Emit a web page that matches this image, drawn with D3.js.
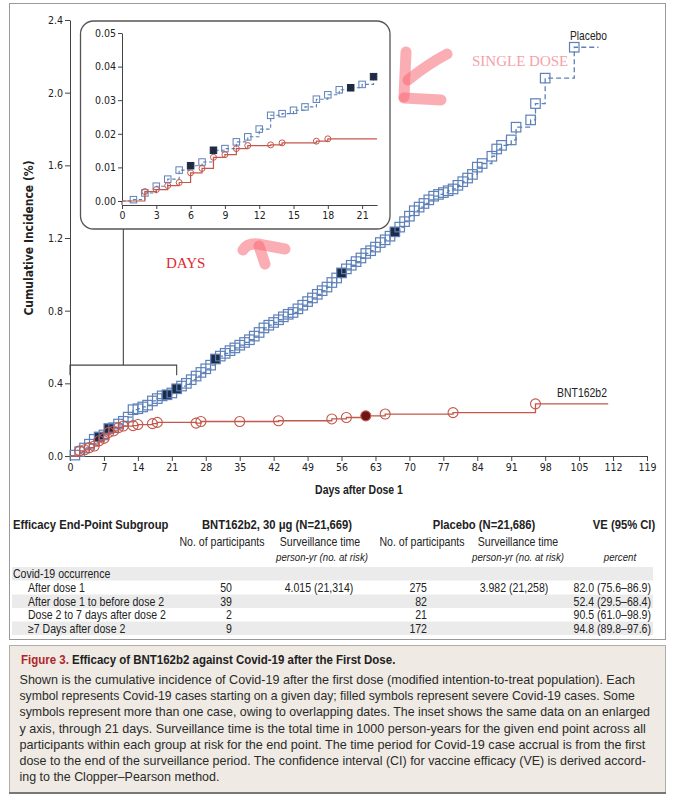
<!DOCTYPE html>
<html>
<head>
<meta charset="utf-8">
<script src="https://cdn.jsdelivr.net/npm/d3@7/dist/d3.min.js"></script>
<style>
  body { margin: 0; background: #fff; }
  svg text { font-family: "DejaVu Sans Condensed", "Liberation Sans", sans-serif; fill: #222; }
  .sans { font-family: "Liberation Sans", Arial, sans-serif !important; }
  .serif { font-family: "Liberation Serif", "DejaVu Serif", serif !important; }
</style>
</head>
<body>
<svg id="chart" width="673" height="800"></svg>
<script>
// ---- data ----
const placeboDays = [1,2,3,4,5,6,7,8,9,10,11,12,13,14,15,16,17,18,19,20,21,22,
  23,24,25,26,27,28,29,30,31,32,33,34,35,36,37,38,39,40,41,42,43,44,45,46,47,48,
  49,50,51,52,53,54,55,56,57,58,59,60,61,62,63,64,65,66,67,68,69,70,71,72,73,
  74,75,76,77,78,79,80,81,82,83,84,85,87,88,89,91,92,95,96,98,104];
const placeboVals = [0.005,0.024,0.044,0.065,0.092,0.105,0.116,0.151,0.156,0.176,0.191,0.214,0.255,0.26,0.27,0.28,0.303,0.316,0.331,0.337,0.347,0.37,
  0.385,0.40,0.42,0.44,0.46,0.48,0.50,0.534,0.55,0.565,0.58,0.595,0.61,0.625,0.64,0.66,0.68,0.705,0.72,0.735,0.75,0.766,0.78,0.79,0.81,0.83,
  0.85,0.87,0.89,0.91,0.93,0.955,0.98,1.008,1.03,1.05,1.07,1.09,1.115,1.13,1.15,1.175,1.19,1.21,1.234,1.26,1.29,1.32,1.35,1.37,1.39,
  1.41,1.43,1.44,1.45,1.46,1.47,1.49,1.51,1.53,1.55,1.59,1.61,1.65,1.69,1.71,1.74,1.81,1.85,1.94,2.08,2.25];
const placeboSevere = [6, 8, 20, 22, 30, 56, 67];
const placeboLastDay = 109;

const bntDays = [2,3,4,5,6,7,8,9,10,11,13,14,17,18,26,27,35,43,54,57,61,65,79,96];
const bntVals = [0.028,0.034,0.046,0.055,0.084,0.097,0.13,0.138,0.156,0.165,0.167,0.173,0.178,0.185,0.181,0.19,0.19,0.194,0.204,0.212,0.221,0.231,0.239,0.287];
const bntSevere = [61];
const bntLastDay = 111;

const insetPlaceboDays = [1,2,3,4,5,6,7,8,9,10,11,12,13,14,15,16,17,18,19,20,21,22];
const insetPlaceboVals = [0.0004,0.0024,0.0044,0.0065,0.0092,0.0105,0.0116,0.0151,0.0156,0.0176,0.0191,0.0214,0.0255,0.026,0.027,0.028,0.0303,0.0316,0.0331,0.0337,0.0347,0.037];
const insetPlaceboSevere = [6, 8, 20, 22];
const insetBntDays = [2,3,4,5,6,7,8,9,10,11,13,14,17,18];
const insetBntVals = [0.0028,0.0034,0.0046,0.0055,0.0084,0.0097,0.013,0.0138,0.0156,0.0165,0.0167,0.0173,0.0178,0.0185];
const insetLastDay = 22.3;

const mainXTicks = [0,7,14,21,28,35,42,49,56,63,70,77,84,91,98,105,112,119];
const mainYTicks = [0.0,0.4,0.8,1.2,1.6,2.0,2.4];
const insetXTicks = [0,3,6,9,12,15,18,21];
const insetYTicks = [0.00,0.01,0.02,0.03,0.04,0.05];

const subgroups = ["After dose 1", "After dose 1 to before dose 2", "Dose 2 to 7 days after dose 2", "\u22657 Days after dose 2"];
const bntCases = [50, 39, 2, 9];
const bntSurv = ["4.015 (21,314)", "", "", ""];
const placeboCases = [275, 82, 21, 172];
const placeboSurv = ["3.982 (21,258)", "", "", ""];
const veText = ["82.0 (75.6\u201386.9)", "52.4 (29.5\u201368.4)", "90.5 (61.0\u201398.9)", "94.8 (89.8\u201397.6)"];

const captionTitleRed = "Figure 3.";
const captionTitle = "Efficacy of BNT162b2 against Covid-19 after the First Dose.";
const captionLines = [
  "Shown is the cumulative incidence of Covid-19 after the first dose (modified intention-to-treat population). Each",
  "symbol represents Covid-19 cases starting on a given day; filled symbols represent severe Covid-19 cases. Some",
  "symbols represent more than one case, owing to overlapping dates. The inset shows the same data on an enlarged",
  "y axis, through 21 days. Surveillance time is the total time in 1000 person-years for the given end point across all",
  "participants within each group at risk for the end point. The time period for Covid-19 case accrual is from the first",
  "dose to the end of the surveillance period. The confidence interval (CI) for vaccine efficacy (VE) is derived accord-",
  "ing to the Clopper\u2013Pearson method."
];
const captionWidths = [616, 616, 631, 627, 627, 627, 200];

// ---- colours ----
const blue = "#5d80b8", navy = "#1d2b45", red = "#c4574b", darkRed = "#6e1414";

const svg = d3.select("#chart");

// text squeezed horizontally, like the narrow face of the original
function ntext(g, xp, yp, str, o) {
  o = o || {};
  const el = g.append("text").attr("class", "sans")
    .attr("text-anchor", o.anchor || "start")
    .style("font-size", (o.size || 12) + "px").text(str);
  if (o.bold) el.style("font-weight", "bold");
  if (o.italic) el.style("font-style", "italic");
  if (o.fill) el.style("fill", o.fill);
  let sx = o.sx || 0.88;
  if (o.width) sx = o.width / el.node().getComputedTextLength();
  el.attr("transform", `translate(${xp},${yp}) scale(${sx},1)`);
  return el;
}

// frames
svg.append("rect").attr("x", 9.5).attr("y", 3.5).attr("width", 656).attr("height", 636)
  .attr("fill", "#fff").attr("stroke", "#9a9a9a");
svg.append("rect").attr("x", 9.5).attr("y", 645.5).attr("width", 656).attr("height", 147)
  .attr("fill", "#efeae3").attr("stroke", "#b0aca6");
svg.append("line").attr("x1", 9).attr("x2", 666).attr("y1", 793).attr("y2", 793)
  .attr("stroke", "#777").attr("stroke-width", 2);

// ---- main chart ----
const x = d3.scaleLinear().domain([0, 119]).range([70, 647]);
const y = d3.scaleLinear().domain([0, 2.4]).range([456, 20]);

function styleAxis(g, fs) {
  g.selectAll("path.domain").attr("stroke", "#444");
  g.selectAll(".tick line").attr("stroke", "#444");
  g.selectAll(".tick text").attr("fill", "#333").style("font-size", fs + "px")
    .style("font-family", '"DejaVu Sans Condensed", sans-serif');
}

const gx = svg.append("g").attr("transform", `translate(0,${y(0)})`)
  .call(d3.axisBottom(x).tickValues(mainXTicks).tickSize(5).tickSizeOuter(0).tickPadding(3));
styleAxis(gx, 10.5);
const gy = svg.append("g").attr("transform", `translate(${x(0)},0)`)
  .call(d3.axisLeft(y).tickValues(mainYTicks).tickFormat(d3.format(".1f")).tickSize(5).tickSizeOuter(0).tickPadding(2));
styleAxis(gy, 10.5);

svg.append("text").attr("transform", `translate(33,${(y(0) + y(2.4)) / 2}) rotate(-90)`)
  .attr("text-anchor", "middle").style("font-size", "12px").style("font-weight", "bold")
  .text("Cumulative Incidence (%)");
ntext(svg, 359, 494, "Days after Dose 1", { anchor: "middle", bold: true, size: 12.5, width: 88 });

function stepSeries(days, vals, lastDay) {
  const pts = [{ day: 0, v: 0 }].concat(days.map((d, i) => ({ day: d, v: vals[i] })));
  pts.push({ day: lastDay, v: vals[vals.length - 1] });
  return pts;
}

const line = d3.line().x(d => x(d.day)).y(d => y(d.v)).curve(d3.curveStepAfter);

const placeboPts = placeboDays.map((d, i) => ({ day: d, v: placeboVals[i], severe: placeboSevere.includes(d) }));
const bntPts = bntDays.map((d, i) => ({ day: d, v: bntVals[i], severe: bntSevere.includes(d) }));

svg.append("path").datum(stepSeries(placeboDays, placeboVals, placeboLastDay))
  .attr("d", line).attr("fill", "none").attr("stroke", blue).attr("stroke-width", 1.3)
  .attr("stroke-dasharray", "5,3");
const sq = 9.5;
svg.selectAll(".psq").data(placeboPts).join("rect").attr("class", "psq")
  .attr("x", d => x(d.day) - sq / 2).attr("y", d => y(d.v) - sq / 2)
  .attr("width", sq).attr("height", sq)
  .attr("fill", d => d.severe ? navy : "none").attr("stroke", blue).attr("stroke-width", 1.2);

svg.append("path").datum(stepSeries(bntDays, bntVals, bntLastDay))
  .attr("d", line).attr("fill", "none").attr("stroke", red).attr("stroke-width", 1.3);
svg.selectAll(".bci").data(bntPts).join("circle").attr("class", "bci")
  .attr("cx", d => x(d.day)).attr("cy", d => y(d.v)).attr("r", 5)
  .attr("fill", d => d.severe ? darkRed : "none").attr("stroke", red).attr("stroke-width", 1.1);

ntext(svg, 570, 40, "Placebo", { size: 12, width: 37 });
ntext(svg, 557, 397, "BNT162b2", { size: 12, width: 50 });

// bracket linking the first 22 days to the inset
const by = y(0.5);
svg.append("path")
  .attr("d", `M${x(0)},${by + 10}V${by}H${x(22)}V${by + 10}M${x(11)},${by}V229`)
  .attr("fill", "none").attr("stroke", "#444").attr("stroke-width", 1.1);

// ---- inset ----
svg.append("rect").attr("x", 80.5).attr("y", 21).attr("width", 309.5).attr("height", 208)
  .attr("rx", 13).attr("fill", "#fff").attr("stroke", "#555").attr("stroke-width", 1.3);

const xi = d3.scaleLinear().domain([0, insetLastDay]).range([122, 377]);
const yi = d3.scaleLinear().domain([0, 0.05]).range([201, 33]);
const axY = 205;

const gxi = svg.append("g").attr("transform", `translate(0,${axY})`)
  .call(d3.axisBottom(xi).tickValues(insetXTicks).tickSize(4).tickSizeOuter(0).tickPadding(3));
styleAxis(gxi, 10.5);
const gyi = svg.append("g").attr("transform", `translate(${xi(0)},0)`)
  .call(d3.axisLeft(yi).tickValues(insetYTicks).tickFormat(d3.format(".2f")).tickSize(4).tickSizeOuter(0).tickPadding(2));
styleAxis(gyi, 10.5);
svg.append("line").attr("x1", xi(0)).attr("x2", xi(0)).attr("y1", yi(0)).attr("y2", axY).attr("stroke", "#444");

const linei = d3.line().x(d => xi(d.day)).y(d => yi(d.v)).curve(d3.curveStepAfter);
const insetPPts = insetPlaceboDays.map((d, i) => ({ day: d, v: insetPlaceboVals[i], severe: insetPlaceboSevere.includes(d) }));
const insetBPts = insetBntDays.map((d, i) => ({ day: d, v: insetBntVals[i] }));

svg.append("path").datum(stepSeries(insetPlaceboDays, insetPlaceboVals, insetPlaceboDays[insetPlaceboDays.length - 1]))
  .attr("d", linei).attr("fill", "none").attr("stroke", blue).attr("stroke-width", 1.1)
  .attr("stroke-dasharray", "3.5,2.5");
const sqi = 6.5;
svg.selectAll(".ipsq").data(insetPPts).join("rect").attr("class", "ipsq")
  .attr("x", d => xi(d.day) - sqi / 2).attr("y", d => yi(d.v) - sqi / 2)
  .attr("width", sqi).attr("height", sqi)
  .attr("fill", d => d.severe ? navy : "none").attr("stroke", d => d.severe ? navy : blue).attr("stroke-width", 1);

svg.append("path").datum(stepSeries(insetBntDays, insetBntVals, insetLastDay))
  .attr("d", linei).attr("fill", "none").attr("stroke", red).attr("stroke-width", 1.2);
svg.selectAll(".ibci").data(insetBPts).join("circle").attr("class", "ibci")
  .attr("cx", d => xi(d.day)).attr("cy", d => yi(d.v)).attr("r", 3)
  .attr("fill", "none").attr("stroke", red).attr("stroke-width", 1);

// ---- hand-drawn annotations ----
const marker = svg.append("g").attr("fill", "none").attr("stroke", "rgba(248,105,118,0.55)")
  .attr("stroke-width", 11).attr("stroke-linecap", "round");
marker.append("path").attr("d", "M406,52L404,97");
marker.append("path").attr("d", "M404,98L441,100");
marker.append("path").attr("d", "M447,54Q428,64 408,80");
marker.append("path").attr("d", "M243,250Q247,243 258,244L285,249");
marker.append("path").attr("d", "M259,246L265,264");

svg.append("text").attr("class", "serif").attr("x", 472).attr("y", 66)
  .style("font-size", "15px").style("fill", "#f3a2aa").text("SINGLE DOSE");
svg.append("text").attr("class", "serif").attr("x", 166).attr("y", 268)
  .style("font-size", "15px").style("fill", "#e02a30").text("DAYS");

// ---- table ----
const tab = svg.append("g");
const rowY = [574, 588, 601.5, 615, 628.5];
rowY.forEach((ry, i) => {
  if (i % 2 === 0) tab.append("rect").attr("x", 12).attr("y", ry - 7).attr("width", 641).attr("height", 13.5).attr("fill", "#ebebeb");
});
const hb = { bold: true, size: 12.5, sx: 0.9 };
ntext(tab, 13, 529, "Efficacy End-Point Subgroup", hb);
ntext(tab, 277, 529, "BNT162b2, 30 \u03bcg (N=21,669)", { ...hb, anchor: "middle" });
ntext(tab, 484, 529, "Placebo (N=21,686)", { ...hb, anchor: "middle" });
ntext(tab, 624, 529, "VE (95% CI)", { ...hb, anchor: "middle" });
ntext(tab, 222, 546, "No. of participants", { anchor: "middle" });
ntext(tab, 320, 546, "Surveillance time", { anchor: "middle" });
ntext(tab, 422, 546, "No. of participants", { anchor: "middle" });
ntext(tab, 518, 546, "Surveillance time", { anchor: "middle" });
ntext(tab, 322, 561, "person-yr (no. at risk)", { anchor: "middle", italic: true, size: 11 });
ntext(tab, 518, 561, "person-yr (no. at risk)", { anchor: "middle", italic: true, size: 11 });
ntext(tab, 620, 561, "percent", { anchor: "middle", italic: true, size: 11 });
ntext(tab, 13, rowY[0] + 4, "Covid-19 occurrence");
subgroups.forEach((s, i) => {
  const ry = rowY[i + 1] + 4;
  ntext(tab, 28, ry, s);
  ntext(tab, 232, ry, bntCases[i], { anchor: "end" });
  if (bntSurv[i]) ntext(tab, 319, ry, bntSurv[i], { anchor: "middle" });
  ntext(tab, 427, ry, placeboCases[i], { anchor: "end" });
  if (placeboSurv[i]) ntext(tab, 514, ry, placeboSurv[i], { anchor: "middle" });
  ntext(tab, 651, ry, veText[i], { anchor: "end" });
});

// ---- caption ----
const cap = svg.append("g");
const title = ntext(cap, 21, 664, "", { bold: true, size: 13.5, sx: 1 });
title.append("tspan").style("fill", "#b0242c").text(captionTitleRed + " ");
title.append("tspan").text(captionTitle);
title.attr("transform", `translate(21,664) scale(${375 / title.node().getComputedTextLength()},1)`);
captionLines.forEach((s, i) => {
  ntext(cap, 19.5, 684 + i * 16.2, s, { size: 13, fill: "#2a2a2a", width: captionWidths[i] });
});
</script>
</body>
</html>
